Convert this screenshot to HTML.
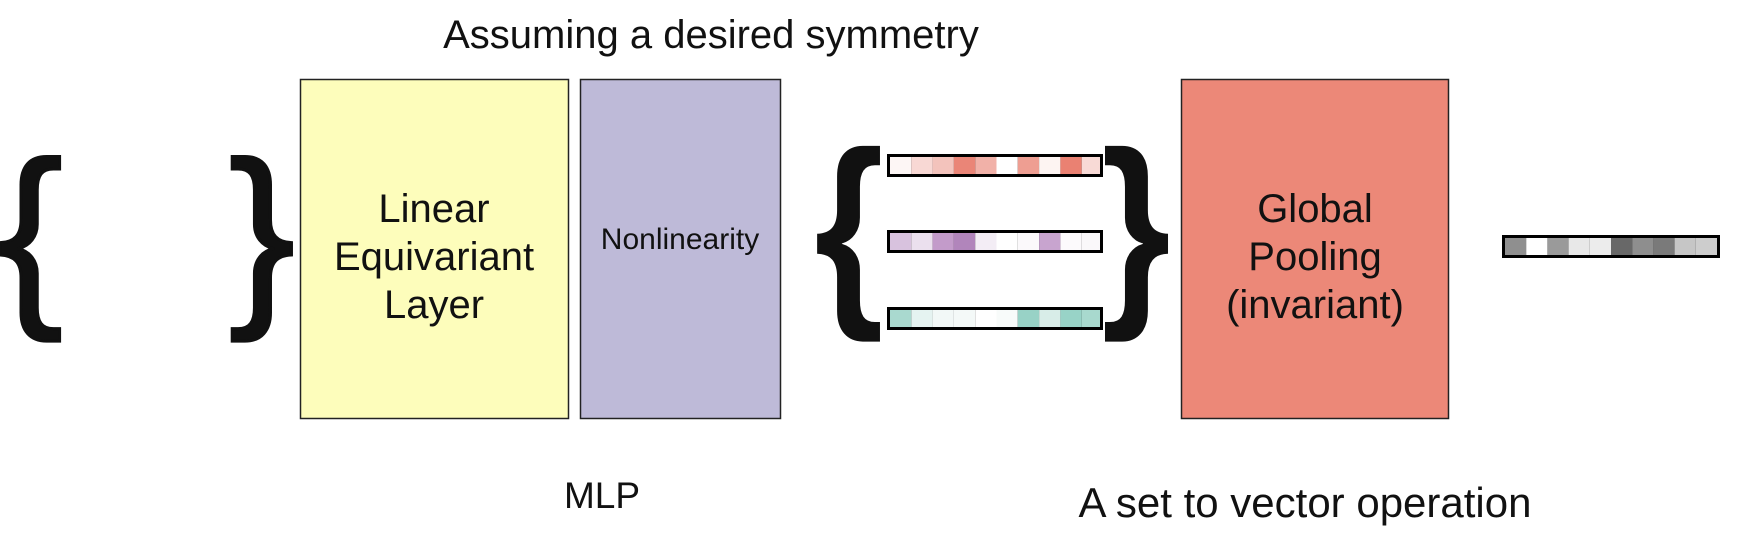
<!DOCTYPE html>
<html><head><style>
html,body{margin:0;padding:0;background:#fff;}
svg text{font-family:"Liberation Sans","DejaVu Sans",sans-serif;fill:#111;}
</style></head><body>
<svg width="1744" height="546" viewBox="0 0 1744 546" xmlns="http://www.w3.org/2000/svg">
<text x="711" y="48" font-size="40" text-anchor="middle">Assuming a desired symmetry</text>

<text x="30" y="300" font-size="198" text-anchor="middle" stroke="#111" stroke-width="3">{</text>
<text x="262" y="300" font-size="198" text-anchor="middle" stroke="#111" stroke-width="3">}</text>

<rect x="300.5" y="79.5" width="268" height="339" fill="#fdfdbb" stroke="#222" stroke-width="1.5"/>
<text x="434" y="222" font-size="40" text-anchor="middle">Linear</text>
<text x="434" y="270" font-size="40" text-anchor="middle">Equivariant</text>
<text x="434" y="318" font-size="40" text-anchor="middle">Layer</text>

<rect x="580.5" y="79.5" width="200" height="339" fill="#bebad8" stroke="#222" stroke-width="1.5"/>
<text x="680" y="249" font-size="30" text-anchor="middle">Nonlinearity</text>

<g transform="translate(849,0) scale(0.85,1) translate(-849,0)">
<text x="849" y="298" font-size="210" text-anchor="middle" font-weight="bold">{</text>
</g>
<g transform="translate(1136,0) scale(0.85,1) translate(-1136,0)">
<text x="1136" y="298" font-size="210" text-anchor="middle" font-weight="bold">}</text>
</g>

<g stroke="none">
<rect x="887" y="154" width="216" height="23" fill="#000"/>
<rect x="890" y="157" width="21.3" height="17" fill="#fdf6f5"/><rect x="911.3" y="157" width="21.3" height="17" fill="#f8d8d4"/><rect x="932.6" y="157" width="21.3" height="17" fill="#f3c3bc"/><rect x="953.9" y="157" width="21.3" height="17" fill="#ea8577"/><rect x="975.2" y="157" width="21.3" height="17" fill="#f1b1a8"/><rect x="996.5" y="157" width="21.3" height="17" fill="#fff"/><rect x="1017.8" y="157" width="21.3" height="17" fill="#ee9e92"/><rect x="1039.1" y="157" width="21.3" height="17" fill="#fdf4f2"/><rect x="1060.4" y="157" width="21.3" height="17" fill="#ea8172"/><rect x="1081.7" y="157" width="18.3" height="17" fill="#f8dad6"/>

<rect x="887" y="230" width="216" height="23" fill="#000"/>
<rect x="890" y="233" width="21.3" height="17" fill="#d8c2de"/><rect x="911.3" y="233" width="21.3" height="17" fill="#ebe0ee"/><rect x="932.6" y="233" width="21.3" height="17" fill="#c39bca"/><rect x="953.9" y="233" width="21.3" height="17" fill="#b185bb"/><rect x="975.2" y="233" width="21.3" height="17" fill="#f3edf5"/><rect x="996.5" y="233" width="21.3" height="17" fill="#fff"/><rect x="1017.8" y="233" width="21.3" height="17" fill="#fbf9fb"/><rect x="1039.1" y="233" width="21.3" height="17" fill="#c8a4cf"/><rect x="1060.4" y="233" width="21.3" height="17" fill="#fcfafc"/><rect x="1081.7" y="233" width="18.3" height="17" fill="#faf8fa"/>

<rect x="887" y="307" width="216" height="23" fill="#000"/>
<rect x="890" y="310" width="21.3" height="17" fill="#a9d9cf"/><rect x="911.3" y="310" width="21.3" height="17" fill="#e5f3f1"/><rect x="932.6" y="310" width="21.3" height="17" fill="#f2f8f7"/><rect x="953.9" y="310" width="21.3" height="17" fill="#f4f9f8"/><rect x="975.2" y="310" width="21.3" height="17" fill="#fff"/><rect x="996.5" y="310" width="21.3" height="17" fill="#f8fbfa"/><rect x="1017.8" y="310" width="21.3" height="17" fill="#98d2c6"/><rect x="1039.1" y="310" width="21.3" height="17" fill="#d8ede8"/><rect x="1060.4" y="310" width="21.3" height="17" fill="#98d3c7"/><rect x="1081.7" y="310" width="18.3" height="17" fill="#a8d9ce"/>
</g>

<rect x="1181.5" y="79.5" width="267" height="339" fill="#ec8878" stroke="#222" stroke-width="1.5"/>
<text x="1315" y="222" font-size="40" text-anchor="middle">Global</text>
<text x="1315" y="270" font-size="40" text-anchor="middle">Pooling</text>
<text x="1315" y="318" font-size="40" text-anchor="middle">(invariant)</text>

<rect x="1502" y="235" width="218" height="23" fill="#000"/>
<rect x="1505" y="238" width="21.2" height="17" fill="#8f8f8f"/><rect x="1526.2" y="238" width="21.2" height="17" fill="#fff"/><rect x="1547.4" y="238" width="21.2" height="17" fill="#9a9a9a"/><rect x="1568.6" y="238" width="21.2" height="17" fill="#e8e8e8"/><rect x="1589.8" y="238" width="21.2" height="17" fill="#ececec"/><rect x="1611" y="238" width="21.2" height="17" fill="#686868"/><rect x="1632.2" y="238" width="21.2" height="17" fill="#8e8e8e"/><rect x="1653.4" y="238" width="21.2" height="17" fill="#7a7a7a"/><rect x="1674.6" y="238" width="21.2" height="17" fill="#c6c6c6"/><rect x="1695.8" y="238" width="21.2" height="17" fill="#cdcdcd"/>

<text x="602" y="508" font-size="37" text-anchor="middle">MLP</text>
<text x="1305" y="517" font-size="42" text-anchor="middle">A set to vector operation</text>
</svg>
</body></html>
